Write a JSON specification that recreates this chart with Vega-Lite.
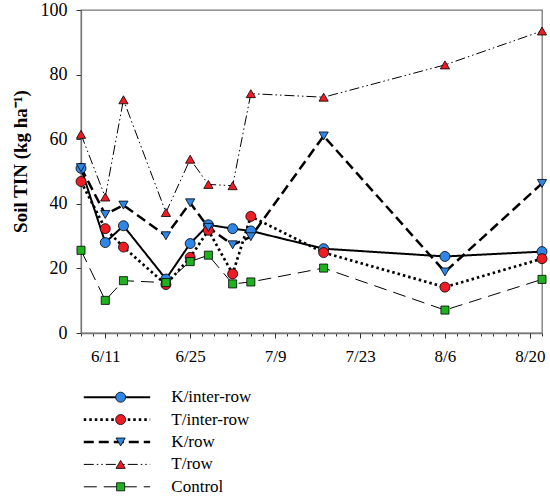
{
  "$schema": "https://vega.github.io/schema/vega-lite/v6.json",
  "padding": {"left": 10, "top": 0, "right": 5, "bottom": 0},
  "background": "white",
  "datasets": {
    "tin": [
      {"date": "2016-06-07", "series": "K/inter-row", "tin": 51.0},
      {"date": "2016-06-11", "series": "K/inter-row", "tin": 28.0},
      {"date": "2016-06-14", "series": "K/inter-row", "tin": 33.2},
      {"date": "2016-06-21", "series": "K/inter-row", "tin": 16.7},
      {"date": "2016-06-25", "series": "K/inter-row", "tin": 27.7},
      {"date": "2016-06-28", "series": "K/inter-row", "tin": 33.5},
      {"date": "2016-07-02", "series": "K/inter-row", "tin": 32.3},
      {"date": "2016-07-05", "series": "K/inter-row", "tin": 31.6},
      {"date": "2016-07-17", "series": "K/inter-row", "tin": 26.1},
      {"date": "2016-08-06", "series": "K/inter-row", "tin": 23.7},
      {"date": "2016-08-22", "series": "K/inter-row", "tin": 25.2},
      {"date": "2016-06-07", "series": "T/inter-row", "tin": 46.9},
      {"date": "2016-06-11", "series": "T/inter-row", "tin": 32.3},
      {"date": "2016-06-14", "series": "T/inter-row", "tin": 26.6},
      {"date": "2016-06-21", "series": "T/inter-row", "tin": 15.0},
      {"date": "2016-06-25", "series": "T/inter-row", "tin": 23.4},
      {"date": "2016-06-28", "series": "T/inter-row", "tin": 31.8},
      {"date": "2016-07-02", "series": "T/inter-row", "tin": 18.3},
      {"date": "2016-07-05", "series": "T/inter-row", "tin": 36.1},
      {"date": "2016-07-17", "series": "T/inter-row", "tin": 24.9},
      {"date": "2016-08-06", "series": "T/inter-row", "tin": 14.2},
      {"date": "2016-08-22", "series": "T/inter-row", "tin": 23.0},
      {"date": "2016-06-07", "series": "K/row", "tin": 51.2},
      {"date": "2016-06-11", "series": "K/row", "tin": 36.7},
      {"date": "2016-06-14", "series": "K/row", "tin": 39.6},
      {"date": "2016-06-21", "series": "K/row", "tin": 30.1},
      {"date": "2016-06-25", "series": "K/row", "tin": 40.3},
      {"date": "2016-06-28", "series": "K/row", "tin": 32.7},
      {"date": "2016-07-02", "series": "K/row", "tin": 27.3},
      {"date": "2016-07-05", "series": "K/row", "tin": 29.8},
      {"date": "2016-07-17", "series": "K/row", "tin": 61.0},
      {"date": "2016-08-06", "series": "K/row", "tin": 18.9},
      {"date": "2016-08-22", "series": "K/row", "tin": 46.3},
      {"date": "2016-06-07", "series": "T/row", "tin": 61.5},
      {"date": "2016-06-11", "series": "T/row", "tin": 42.1},
      {"date": "2016-06-14", "series": "T/row", "tin": 72.2},
      {"date": "2016-06-21", "series": "T/row", "tin": 37.3},
      {"date": "2016-06-25", "series": "T/row", "tin": 53.8},
      {"date": "2016-06-28", "series": "T/row", "tin": 46.0},
      {"date": "2016-07-02", "series": "T/row", "tin": 45.6},
      {"date": "2016-07-05", "series": "T/row", "tin": 74.1},
      {"date": "2016-07-17", "series": "T/row", "tin": 73.0},
      {"date": "2016-08-06", "series": "T/row", "tin": 83.0},
      {"date": "2016-08-22", "series": "T/row", "tin": 93.5},
      {"date": "2016-06-07", "series": "Control", "tin": 25.6},
      {"date": "2016-06-11", "series": "Control", "tin": 10.1},
      {"date": "2016-06-14", "series": "Control", "tin": 16.2},
      {"date": "2016-06-21", "series": "Control", "tin": 15.6},
      {"date": "2016-06-25", "series": "Control", "tin": 22.1},
      {"date": "2016-06-28", "series": "Control", "tin": 24.1},
      {"date": "2016-07-02", "series": "Control", "tin": 15.2},
      {"date": "2016-07-05", "series": "Control", "tin": 15.8},
      {"date": "2016-07-17", "series": "Control", "tin": 20.1},
      {"date": "2016-08-06", "series": "Control", "tin": 7.1},
      {"date": "2016-08-22", "series": "Control", "tin": 16.6}
    ],
    "legend": [
      {"series": "K/inter-row"},
      {"series": "T/inter-row"},
      {"series": "K/row"},
      {"series": "T/row"},
      {"series": "Control"}
    ]
  },
  "vconcat": [
    {
      "width": 461,
      "height": 323,
      "data": {"name": "tin"},
      "view": {"stroke": "#777", "strokeWidth": 1.3},
      "resolve": {"axis": {"x": "independent"}},
      "layer": [
        {
          "mark": {"type": "line", "color": "black", "strokeCap": "butt"},
          "encoding": {
            "x": {
              "field": "date", "type": "temporal",
              "scale": {"type": "utc", "domain": [{"year": 2016, "month": 6, "date": 7, "utc": true}, {"year": 2016, "month": 8, "date": 22, "utc": true}]},
              "axis": {
                "orient": "bottom", "title": null, "labels": false, "grid": false,
                "tickSize": 3, "tickColor": "#333", "tickWidth": 1,
                "domainColor": "#777", "domainWidth": 1.3,
                "values": [
                  {"year": 2016, "month": 6, "date": 7, "utc": true},
                  {"year": 2016, "month": 6, "date": 9, "utc": true},
                  {"year": 2016, "month": 6, "date": 11, "utc": true},
                  {"year": 2016, "month": 6, "date": 13, "utc": true},
                  {"year": 2016, "month": 6, "date": 15, "utc": true},
                  {"year": 2016, "month": 6, "date": 17, "utc": true},
                  {"year": 2016, "month": 6, "date": 19, "utc": true},
                  {"year": 2016, "month": 6, "date": 21, "utc": true},
                  {"year": 2016, "month": 6, "date": 23, "utc": true},
                  {"year": 2016, "month": 6, "date": 25, "utc": true},
                  {"year": 2016, "month": 6, "date": 27, "utc": true},
                  {"year": 2016, "month": 6, "date": 29, "utc": true},
                  {"year": 2016, "month": 7, "date": 1, "utc": true},
                  {"year": 2016, "month": 7, "date": 3, "utc": true},
                  {"year": 2016, "month": 7, "date": 5, "utc": true},
                  {"year": 2016, "month": 7, "date": 7, "utc": true},
                  {"year": 2016, "month": 7, "date": 9, "utc": true},
                  {"year": 2016, "month": 7, "date": 11, "utc": true},
                  {"year": 2016, "month": 7, "date": 13, "utc": true},
                  {"year": 2016, "month": 7, "date": 15, "utc": true},
                  {"year": 2016, "month": 7, "date": 17, "utc": true},
                  {"year": 2016, "month": 7, "date": 19, "utc": true},
                  {"year": 2016, "month": 7, "date": 21, "utc": true},
                  {"year": 2016, "month": 7, "date": 23, "utc": true},
                  {"year": 2016, "month": 7, "date": 25, "utc": true},
                  {"year": 2016, "month": 7, "date": 27, "utc": true},
                  {"year": 2016, "month": 7, "date": 29, "utc": true},
                  {"year": 2016, "month": 7, "date": 31, "utc": true},
                  {"year": 2016, "month": 8, "date": 2, "utc": true},
                  {"year": 2016, "month": 8, "date": 4, "utc": true},
                  {"year": 2016, "month": 8, "date": 6, "utc": true},
                  {"year": 2016, "month": 8, "date": 8, "utc": true},
                  {"year": 2016, "month": 8, "date": 10, "utc": true},
                  {"year": 2016, "month": 8, "date": 12, "utc": true},
                  {"year": 2016, "month": 8, "date": 14, "utc": true},
                  {"year": 2016, "month": 8, "date": 16, "utc": true},
                  {"year": 2016, "month": 8, "date": 18, "utc": true},
                  {"year": 2016, "month": 8, "date": 20, "utc": true},
                  {"year": 2016, "month": 8, "date": 22, "utc": true}
                ]
              }
            },
            "y": {
              "field": "tin", "type": "quantitative",
              "scale": {"domain": [0, 100], "nice": false},
              "axis": {
                "title": "Soil TIN (kg ha⁻¹)", "titleFont": "Liberation Serif", "titleFontSize": 19,
                "titleFontWeight": "bold", "titleColor": "black", "titlePadding": 10, "titleY": 151,
                "values": [0, 20, 40, 60, 80, 100], "grid": false,
                "tickSize": 5, "tickColor": "#333", "domainColor": "#777", "domainWidth": 1.3,
                "labelFont": "Liberation Serif", "labelFontSize": 18, "labelColor": "black", "labelPadding": 9
              }
            },
            "detail": {"field": "series"},
            "strokeDash": {
              "field": "series", "type": "nominal", "legend": null,
              "scale": {
                "domain": ["K/inter-row", "T/inter-row", "K/row", "T/row", "Control"],
                "range": [[1, 0], [2.5, 3], [10, 5], [10, 3, 1.5, 3, 1.5, 3], [13, 7]]
              }
            },
            "strokeWidth": {
              "field": "series", "type": "nominal", "legend": null,
              "scale": {
                "type": "ordinal",
                "domain": ["K/inter-row", "T/inter-row", "K/row", "T/row", "Control"],
                "range": [2, 2.7, 2.5, 1, 1]
              }
            }
          }
        },
        {
          "mark": {"type": "point", "filled": true, "stroke": "black", "strokeWidth": 0.8, "opacity": 1},
          "encoding": {
            "x": {
              "field": "date", "type": "temporal",
              "axis": {
                "orient": "bottom", "title": null, "grid": false, "domain": false,
                "format": "%-m/%-d", "tickSize": 5, "tickColor": "#333",
                "labelFont": "Liberation Serif", "labelFontSize": 17, "labelColor": "black", "labelPadding": 10,
                "values": [
                  {"year": 2016, "month": 6, "date": 11, "utc": true},
                  {"year": 2016, "month": 6, "date": 25, "utc": true},
                  {"year": 2016, "month": 7, "date": 9, "utc": true},
                  {"year": 2016, "month": 7, "date": 23, "utc": true},
                  {"year": 2016, "month": 8, "date": 6, "utc": true},
                  {"year": 2016, "month": 8, "date": 20, "utc": true}
                ]
              }
            },
            "y": {"field": "tin", "type": "quantitative"},
            "shape": {
              "field": "series", "type": "nominal", "legend": null,
              "scale": {
                "domain": ["K/inter-row", "T/inter-row", "K/row", "T/row", "Control"],
                "range": ["circle", "circle", "triangle-down", "triangle-up", "square"]
              }
            },
            "fill": {
              "field": "series", "type": "nominal", "legend": null,
              "scale": {
                "domain": ["K/inter-row", "T/inter-row", "K/row", "T/row", "Control"],
                "range": ["#2f86e6", "#ee1c24", "#2f86e6", "#ee1c24", "#1fb21f"]
              }
            },
            "size": {
              "field": "series", "type": "nominal", "legend": null,
              "scale": {
                "type": "ordinal",
                "domain": ["K/inter-row", "T/inter-row", "K/row", "T/row", "Control"],
                "range": [100, 100, 85, 85, 65]
              }
            }
          }
        }
      ]
    },
    {
      "width": 461,
      "height": 112,
      "data": {"name": "legend"},
      "view": {"stroke": null},
      "encoding": {
        "y": {
          "field": "series", "type": "nominal", "axis": null,
          "scale": {"type": "point", "padding": 0.5, "domain": ["K/inter-row", "T/inter-row", "K/row", "T/row", "Control"]}
        }
      },
      "layer": [
        {
          "mark": {"type": "rule", "color": "black", "strokeCap": "butt"},
          "encoding": {
            "x": {"datum": 3, "type": "quantitative", "scale": {"domain": [0, 461]}, "axis": null},
            "x2": {"datum": 75},
            "strokeDash": {
              "field": "series", "type": "nominal", "legend": null,
              "scale": {
                "domain": ["K/inter-row", "T/inter-row", "K/row", "T/row", "Control"],
                "range": [[1, 0], [2.5, 3], [10, 5], [10, 3, 1.5, 3, 1.5, 3], [13, 7]]
              }
            },
            "strokeWidth": {
              "field": "series", "type": "nominal", "legend": null,
              "scale": {
                "type": "ordinal",
                "domain": ["K/inter-row", "T/inter-row", "K/row", "T/row", "Control"],
                "range": [2, 2.7, 2.5, 1, 1]
              }
            }
          }
        },
        {
          "mark": {"type": "point", "filled": true, "stroke": "black", "strokeWidth": 0.8, "opacity": 1},
          "encoding": {
            "x": {"datum": 43, "type": "quantitative"},
            "shape": {
              "field": "series", "type": "nominal", "legend": null,
              "scale": {
                "domain": ["K/inter-row", "T/inter-row", "K/row", "T/row", "Control"],
                "range": ["circle", "circle", "triangle-down", "triangle-up", "square"]
              }
            },
            "fill": {
              "field": "series", "type": "nominal", "legend": null,
              "scale": {
                "domain": ["K/inter-row", "T/inter-row", "K/row", "T/row", "Control"],
                "range": ["#2f86e6", "#ee1c24", "#2f86e6", "#ee1c24", "#1fb21f"]
              }
            },
            "size": {
              "field": "series", "type": "nominal", "legend": null,
              "scale": {
                "type": "ordinal",
                "domain": ["K/inter-row", "T/inter-row", "K/row", "T/row", "Control"],
                "range": [90, 90, 65, 65, 55]
              }
            }
          }
        },
        {
          "mark": {"type": "text", "align": "left", "baseline": "middle", "font": "Liberation Serif", "fontSize": 17, "color": "black"},
          "encoding": {
            "x": {"datum": 98, "type": "quantitative"},
            "text": {"field": "series"}
          }
        }
      ]
    }
  ],
  "spacing": 21
}
